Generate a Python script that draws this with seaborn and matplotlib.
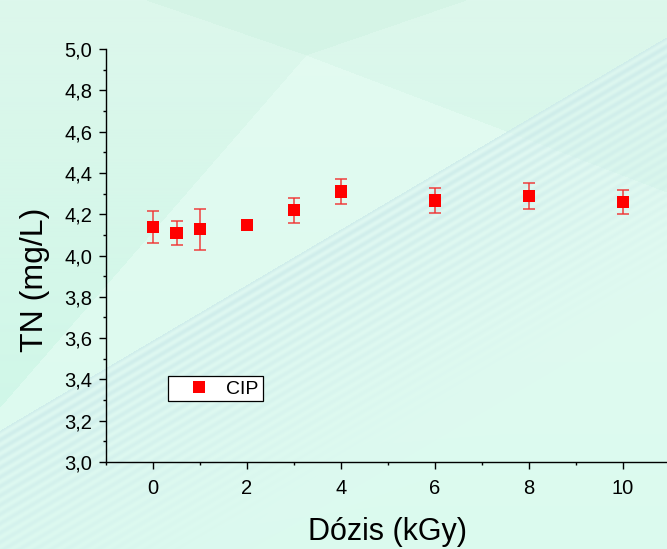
import numpy as np
import pandas as pd
import matplotlib
matplotlib.use("Agg")
import matplotlib.pyplot as plt
import seaborn as sns
from matplotlib.ticker import MultipleLocator, FuncFormatter
from matplotlib.lines import Line2D

# Total nitrogen vs. absorbed dose
dose = [0, 0.5, 1, 2, 3, 4, 6, 8, 10]
tn = [4.139, 4.108, 4.128, 4.148, 4.219, 4.309, 4.267, 4.288, 4.259]
tn_err = [0.078, 0.057, 0.099, 0.008, 0.060, 0.060, 0.060, 0.061, 0.060]
series_name = "CIP"
x_label = "Dózis (kGy)"
y_label = "TN (mg/L)"

df = pd.DataFrame({"dose": dose, "tn": tn, "err": tn_err, "series": series_name})

sns.set_style("ticks")
plt.rcParams["font.family"] = ["Liberation Sans", "DejaVu Sans"]
plt.rcParams["text.color"] = "black"
plt.rcParams["axes.labelcolor"] = "black"

W, H = 667, 549
fig = plt.figure(figsize=(W / 100, H / 100), dpi=100)

# ---- decorative mint background ----
yy, xx = np.mgrid[0:H, 0:W].astype(float)
t = yy / (H - 1)
top = np.array([221, 247, 236]) / 255
bot = np.array([204, 247, 231]) / 255
bg = top[None, None, :] * (1 - t[..., None]) + bot[None, None, :] * t[..., None]


def blend(img, mask, color, alpha):
    c = np.array(color) / 255
    a = (mask * alpha)[..., None]
    return img * (1 - a) + c[None, None, :] * a


# slightly darker wedge at the top
wedge = ((yy < 55 * (1 - np.abs(xx - 306) / 160)) & (xx > 140)).astype(float)
bg = blend(bg, wedge, (210, 243, 228), 0.7)
# pale diagonal sheet
d1 = yy - (55 + (306 - xx) * 1.15)
d2 = yy - (55 + (xx - 306) * 0.38)
light = ((d1 > 0) & (d2 > 0)).astype(float)
bg = blend(bg, light, (232, 253, 245), 0.55)
# striped band
ds = yy - (430 - 0.59 * xx)
perp = ds / np.sqrt(1 + 0.59 ** 2)
stripes = 0.5 + 0.5 * np.cos(2 * np.pi * perp / 8.0)
band = (perp > 0).astype(float)
fade = np.clip(1 - perp / 210, 0, 1) * band
bg = blend(bg, band * np.clip(1 - perp / 260, 0, 1), (222, 246, 242), 0.6)
bg = blend(bg, stripes * fade, (200, 232, 232), 0.65)

bg_ax = fig.add_axes([0, 0, 1, 1], zorder=-5)
bg_ax.imshow(np.clip(bg, 0, 1), aspect="auto", extent=(0, W, H, 0))
bg_ax.set_axis_off()

# ---- data axes ----
ax = fig.add_axes([106 / W, 87 / H, 564 / W, 413 / H])
ax.set_facecolor("none")

ax.errorbar(df["dose"], df["tn"], yerr=df["err"], fmt="none",
            ecolor="#f03030", elinewidth=1.2, capsize=4.3, capthick=1.2,
            alpha=0.85, zorder=2)
sns.scatterplot(data=df, x="dose", y="tn", marker="s", s=80,
                color="#ff0000", edgecolor="none", linewidth=0,
                legend=False, ax=ax, zorder=3)

ax.set_xlim(-1, 11)
ax.set_ylim(3.0, 5.0)
ax.xaxis.set_major_locator(MultipleLocator(2))
ax.xaxis.set_minor_locator(MultipleLocator(1))
ax.yaxis.set_major_locator(MultipleLocator(0.2))
ax.yaxis.set_minor_locator(MultipleLocator(0.1))
ax.yaxis.set_major_formatter(FuncFormatter(lambda v, p: f"{v:.1f}".replace(".", ",")))
ax.xaxis.set_major_formatter(FuncFormatter(lambda v, p: f"{v:.0f}"))

for side in ("top", "right"):
    ax.spines[side].set_visible(False)
for side in ("left", "bottom"):
    ax.spines[side].set_linewidth(1.0)
    ax.spines[side].set_color("black")

ax.tick_params(which="major", direction="out", length=5, width=1.0,
               labelsize=14.5, colors="black", labelcolor="black")
ax.tick_params(axis="x", which="major", pad=7)
ax.tick_params(axis="y", which="major", pad=5)
ax.tick_params(which="minor", direction="out", length=2.5, width=1.0, colors="black")

ax.set_xlabel(x_label, fontsize=22, color="black")
ax.set_ylabel(y_label, fontsize=23, color="black")
ax.xaxis.set_label_coords(0.5, -0.133)
ax.xaxis.label.set_va("top")
ax.yaxis.set_label_coords(-0.1, 0.44)

handle = Line2D([], [], marker="s", linestyle="none", color="#ff0000",
                markersize=8.5, markeredgewidth=0)
leg = ax.legend([handle], [series_name], loc="upper left",
                bbox_to_anchor=(168 / W, 1 - 376 / H),
                bbox_transform=fig.transFigure, borderaxespad=0,
                fontsize=14, frameon=True, fancybox=False,
                handlelength=2.8, handletextpad=0.0, borderpad=0.2)
leg.get_frame().set_edgecolor("black")
leg.get_frame().set_facecolor("white")
leg.get_frame().set_linewidth(0.9)
leg.get_frame().set_alpha(1)

fig.savefig("out.png", dpi=100)
